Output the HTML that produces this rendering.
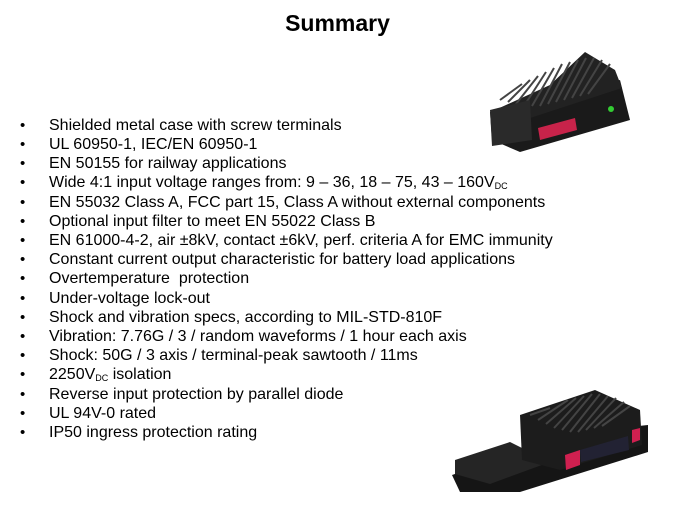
<!DOCTYPE html>
<html><head><style>
body{margin:0;width:675px;height:506px;background:#fff;position:relative;overflow:hidden;font-family:"Liberation Sans",Arial,sans-serif;}
h1{position:absolute;top:10px;left:0;width:675px;text-align:center;margin:0;font-size:23px;font-weight:bold;color:#000;}
.l{position:absolute;left:0;font-size:16px;line-height:19px;color:#000;white-space:nowrap;}
.l b{position:absolute;left:20px;font-weight:normal;font-size:15px;}
.l span{position:absolute;left:49px;}
sub{font-size:9px;vertical-align:-2px;line-height:0;}
svg{position:absolute;}
</style></head><body>
<h1>Summary</h1>
<div class="l" style="top:116px"><b>•</b><span>Shielded metal case with screw terminals</span></div>
<div class="l" style="top:135px"><b>•</b><span>UL 60950-1, IEC/EN 60950-1</span></div>
<div class="l" style="top:154px"><b>•</b><span>EN 50155 for railway applications</span></div>
<div class="l" style="top:173px"><b>•</b><span>Wide 4:1 input voltage ranges from: 9 – 36, 18 – 75, 43 – 160V<sub>DC</sub></span></div>
<div class="l" style="top:193px"><b>•</b><span>EN 55032 Class A, FCC part 15, Class A without external components</span></div>
<div class="l" style="top:212px"><b>•</b><span>Optional input filter to meet EN 55022 Class B</span></div>
<div class="l" style="top:231px"><b>•</b><span>EN 61000-4-2, air ±8kV, contact ±6kV, perf. criteria A for EMC immunity</span></div>
<div class="l" style="top:250px"><b>•</b><span>Constant current output characteristic for battery load applications</span></div>
<div class="l" style="top:269px"><b>•</b><span>Overtemperature &nbsp;protection</span></div>
<div class="l" style="top:289px"><b>•</b><span>Under-voltage lock-out</span></div>
<div class="l" style="top:308px"><b>•</b><span>Shock and vibration specs, according to MIL-STD-810F</span></div>
<div class="l" style="top:327px"><b>•</b><span>Vibration: 7.76G / 3 / random waveforms / 1 hour each axis</span></div>
<div class="l" style="top:346px"><b>•</b><span>Shock: 50G / 3 axis / terminal-peak sawtooth / 11ms</span></div>
<div class="l" style="top:365px"><b>•</b><span>2250V<sub>DC</sub> isolation</span></div>
<div class="l" style="top:385px"><b>•</b><span>Reverse input protection by parallel diode</span></div>
<div class="l" style="top:404px"><b>•</b><span>UL 94V-0 rated</span></div>
<div class="l" style="top:423px"><b>•</b><span>IP50 ingress protection rating</span></div>

<svg style="left:440px;top:40px" width="220" height="120" viewBox="0 0 220 120">
<polygon points="50,72 180,40 190,80 80,112 52,100" fill="#1a1a1a"/>
<polygon points="55,70 110,45 145,12 175,30 182,48 78,82" fill="#222"/>
<g stroke="#444" stroke-width="2">
<line x1="60" y1="60" x2="82" y2="44"/><line x1="68" y1="62" x2="90" y2="40"/><line x1="76" y1="64" x2="98" y2="36"/><line x1="84" y1="66" x2="106" y2="32"/><line x1="92" y1="66" x2="114" y2="28"/><line x1="100" y1="66" x2="122" y2="24"/><line x1="108" y1="64" x2="130" y2="22"/><line x1="116" y1="62" x2="138" y2="20"/><line x1="124" y1="60" x2="146" y2="18"/><line x1="132" y1="58" x2="154" y2="18"/><line x1="140" y1="56" x2="162" y2="20"/><line x1="148" y1="54" x2="170" y2="24"/>
</g>
<polygon points="50,70 90,60 92,100 52,106" fill="#2a2a2a"/>
<polygon points="98,88 135,78 137,90 100,100" fill="#c8234a"/>
<circle cx="171" cy="69" r="3" fill="#3c3"/>
</svg>

<svg style="left:440px;top:370px" width="220" height="130" viewBox="0 0 220 130">
<polygon points="12,105 140,62 208,55 208,82 80,122 20,122" fill="#151515"/>
<polygon points="15,90 70,72 110,92 50,114 15,104" fill="#252525"/>
<polygon points="80,45 155,20 200,40 202,75 120,100 82,90" fill="#1c1c1c"/>
<g stroke="#444" stroke-width="2">
<line x1="90" y1="45" x2="110" y2="38"/><line x1="98" y1="50" x2="128" y2="30"/><line x1="106" y1="54" x2="136" y2="28"/><line x1="114" y1="58" x2="144" y2="26"/><line x1="122" y1="60" x2="152" y2="24"/><line x1="130" y1="62" x2="160" y2="24"/><line x1="138" y1="62" x2="168" y2="26"/><line x1="146" y1="60" x2="176" y2="28"/><line x1="154" y1="58" x2="184" y2="32"/><line x1="162" y1="56" x2="190" y2="36"/>
</g>
<polygon points="125,85 140,80 140,95 126,100" fill="#d02050"/>
<polygon points="192,60 200,58 200,70 192,73" fill="#d02050"/>
<polygon points="140,80 188,66 189,80 141,92" fill="#223"/>
</svg>
</body></html>
